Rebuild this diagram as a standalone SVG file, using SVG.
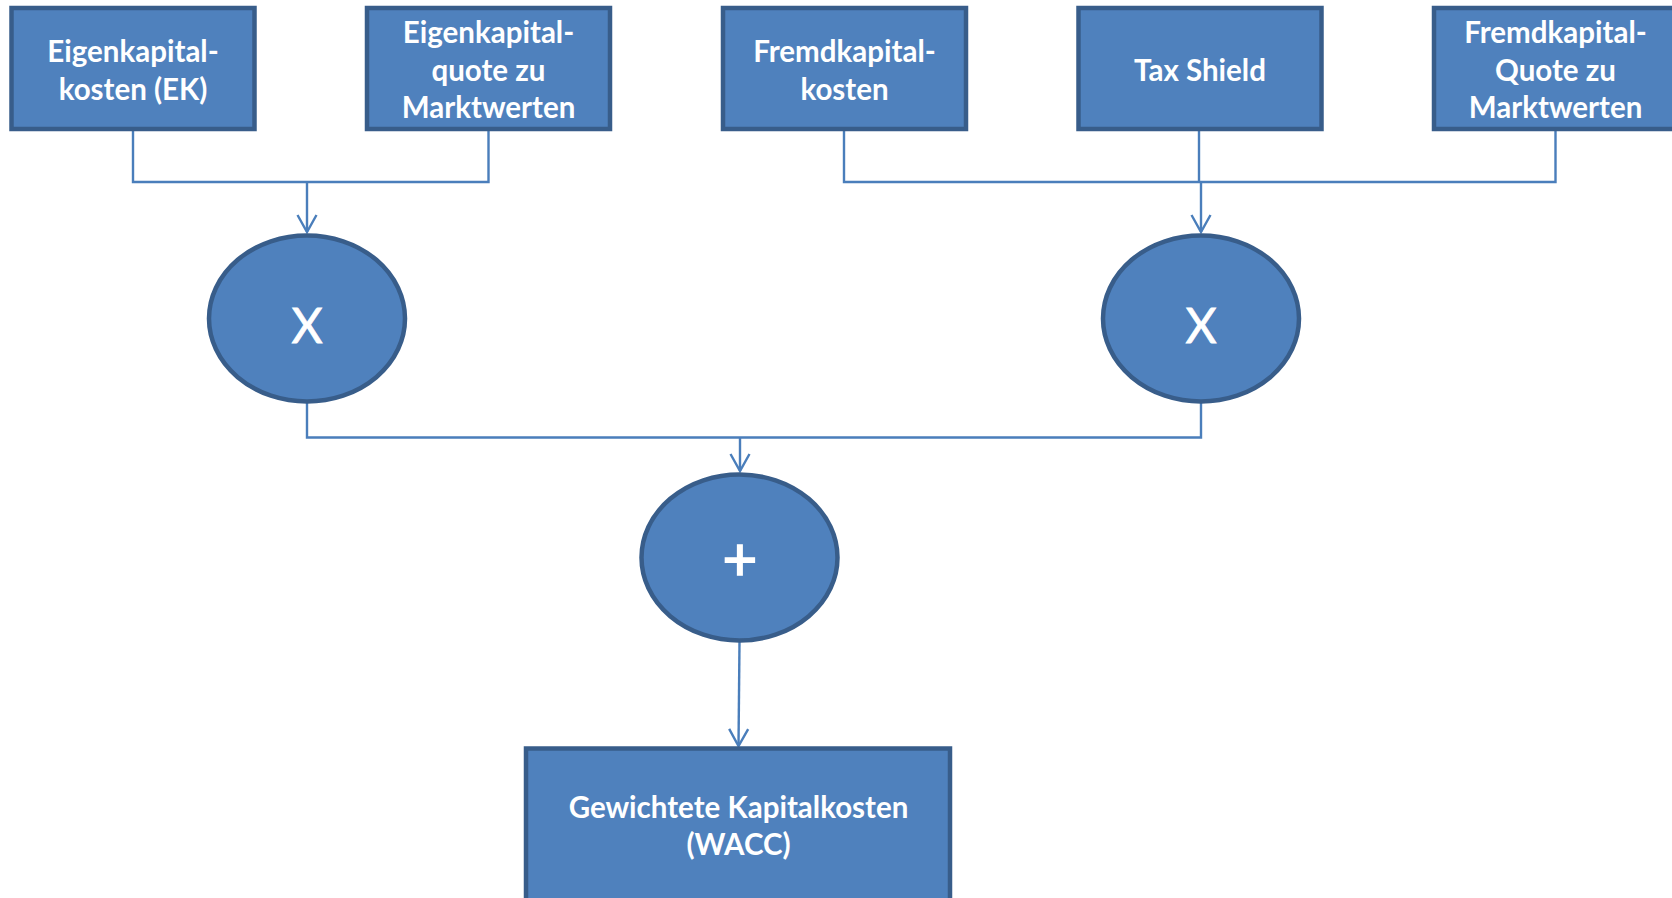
<svg xmlns="http://www.w3.org/2000/svg" width="1672" height="898" viewBox="0 0 1672 898">
<defs>
<style>
.box{fill:#4F81BD;stroke:#385D8A;stroke-width:4.5}
.op{fill:#4F81BD;stroke:#385D8A;stroke-width:4.5}
.t{font-family:Lato,"Open Sans","Liberation Sans",sans-serif;font-weight:bold;font-size:29.5px;fill:#FFFFFF;text-anchor:middle}
.o{font-family:Lato,"Open Sans","Liberation Sans",sans-serif;font-weight:normal;font-size:48px;fill:#FFFFFF;stroke:#FFFFFF;stroke-width:0.8;text-anchor:middle}
.c{fill:none;stroke:#4A7EBB;stroke-width:2.4}
</style>
<marker id="arr" markerUnits="userSpaceOnUse" markerWidth="24" markerHeight="24" viewBox="-20 -12 22 24" refX="0" refY="0" orient="auto">
<path d="M-17,-9.5 L0,0 L-17,9.5" fill="none" stroke="#4A7EBB" stroke-width="2.4"/>
</marker>
</defs>
<rect width="1672" height="898" fill="#FFFFFF"/>
<g id="connectors">
<path class="c" d="M133,130 V182 H488.5 V130"/>
<path class="c" d="M307,182 V232" marker-end="url(#arr)"/>
<path class="c" d="M844,130 V182 H1555.5 V130"/>
<path class="c" d="M1199,130 V182"/>
<path class="c" d="M1201,182 V232" marker-end="url(#arr)"/>
<path class="c" d="M307,403 V437.5 H1201 V403"/>
<path class="c" d="M740,437.5 V471" marker-end="url(#arr)"/>
<path class="c" d="M739.5,642 L738.5,746" marker-end="url(#arr)"/>
</g>
<g id="n1">
<rect class="box" x="11.5" y="8" width="243" height="121"/>
<text class="t" x="133" y="62">Eigenkapital-</text>
<text class="t" x="133" y="99.5">kosten (EK)</text>
</g>
<g id="n2">
<rect class="box" x="367" y="8" width="243" height="121"/>
<text class="t" x="488.5" y="42.5">Eigenkapital-</text>
<text class="t" x="488.5" y="80.5">quote zu</text>
<text class="t" x="488.5" y="118">Marktwerten</text>
</g>
<g id="n3">
<rect class="box" x="723" y="8" width="243" height="121"/>
<text class="t" x="844.5" y="62">Fremdkapital-</text>
<text class="t" x="844.5" y="99.5">kosten</text>
</g>
<g id="n4">
<rect class="box" x="1078.5" y="8" width="243" height="121"/>
<text class="t" x="1200" y="80.5">Tax Shield</text>
</g>
<g id="n5">
<rect class="box" x="1434" y="8" width="243" height="121"/>
<text class="t" x="1555.5" y="42.5">Fremdkapital-</text>
<text class="t" x="1555.5" y="80.5">Quote zu</text>
<text class="t" x="1555.5" y="118">Marktwerten</text>
</g>
<g id="mul1">
<ellipse class="op" cx="307" cy="318.5" rx="98" ry="83"/>
<text class="o" x="307" y="343">X</text>
</g>
<g id="mul2">
<ellipse class="op" cx="1201" cy="318.5" rx="98" ry="83"/>
<text class="o" x="1201" y="343">X</text>
</g>
<g id="sum">
<ellipse class="op" cx="739.5" cy="557.5" rx="98" ry="83"/>
<text class="o" x="740" y="580" style="font-size:60px;stroke-width:1.6">+</text>
</g>
<g id="wacc">
<rect class="box" x="526" y="748.5" width="424" height="160"/>
<text class="t" x="738.5" y="818">Gewichtete Kapitalkosten</text>
<text class="t" x="738.5" y="855">(WACC)</text>
</g>
</svg>
